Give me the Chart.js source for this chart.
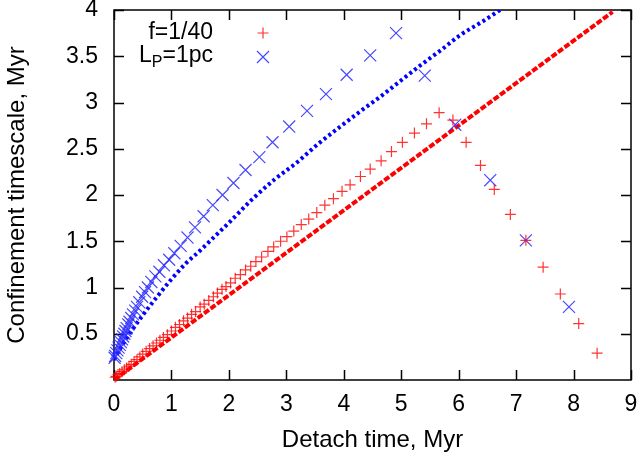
<!DOCTYPE html>
<html>
<head>
<meta charset="utf-8">
<script src="https://cdn.jsdelivr.net/npm/chart.js@4/dist/chart.umd.min.js"></script>
<style>
  html, body { margin: 0; padding: 0; background: #fff; }
  #wrap { width: 641px; height: 460px; }
</style>
</head>
<body>
<div id="wrap"><canvas id="chart" width="641" height="460"></canvas></div>
<script>
// f=1/40 points (red +)
const redX = [0.02, 0.04, 0.07, 0.10, 0.14, 0.18, 0.22, 0.26, 0.30, 0.35,
  0.40, 0.45, 0.50, 0.56, 0.62, 0.68, 0.74, 0.80, 0.86, 0.93,
  1.00, 1.07, 1.14, 1.21, 1.28, 1.35, 1.42, 1.50, 1.57, 1.65,
  1.73, 1.80, 1.88, 1.95, 2.03, 2.11, 2.20, 2.29, 2.38, 2.47,
  2.57, 2.68, 2.78, 2.90, 3.01, 3.13, 3.26, 3.39, 3.53, 3.67,
  3.82, 3.97, 4.11, 4.29, 4.46, 4.65, 4.83, 5.02, 5.23, 5.44,
  5.66, 5.90, 6.13, 6.38, 6.62, 6.90, 7.17, 7.47, 7.77, 8.09, 8.41];
const redY = [0.03, 0.04, 0.06, 0.07, 0.09, 0.11, 0.13, 0.15, 0.17, 0.20,
  0.22, 0.25, 0.28, 0.31, 0.34, 0.37, 0.40, 0.43, 0.46, 0.49,
  0.53, 0.57, 0.60, 0.64, 0.67, 0.71, 0.74, 0.79, 0.82, 0.86,
  0.90, 0.94, 0.98, 1.01, 1.05, 1.10, 1.14, 1.19, 1.23, 1.28,
  1.33, 1.39, 1.44, 1.50, 1.55, 1.61, 1.68, 1.74, 1.81, 1.89,
  1.96, 2.04, 2.11, 2.20, 2.28, 2.37, 2.47, 2.57, 2.67, 2.77,
  2.89, 2.81, 2.57, 2.32, 2.06, 1.79, 1.51, 1.22, 0.93, 0.61, 0.29];

// L_P=1pc points (blue x)
const blueX = [0.01, 0.02, 0.04, 0.06, 0.08, 0.10, 0.12, 0.14, 0.16, 0.18,
  0.20, 0.22, 0.25, 0.27, 0.30, 0.33, 0.37, 0.40, 0.44, 0.49,
  0.54, 0.59, 0.65, 0.72, 0.79, 0.87, 0.96, 1.05, 1.16, 1.28,
  1.41, 1.56, 1.72, 1.89, 2.08, 2.29, 2.53, 2.76, 3.05, 3.36,
  3.69, 4.05, 4.46, 4.91, 5.41, 5.94, 6.55, 7.17, 7.92];
const blueY = [0.24, 0.26, 0.29, 0.32, 0.35, 0.38, 0.41, 0.44, 0.47, 0.50,
  0.53, 0.56, 0.60, 0.63, 0.67, 0.71, 0.75, 0.79, 0.84, 0.90,
  0.95, 1.00, 1.06, 1.12, 1.17, 1.24, 1.30, 1.37, 1.45, 1.54,
  1.65, 1.77, 1.89, 2.00, 2.13, 2.27, 2.41, 2.57, 2.74, 2.91,
  3.09, 3.30, 3.51, 3.75, 3.29, 2.76, 2.16, 1.51, 0.79];

// blue dotted curve
const dotX = [0, 0.1, 0.25, 0.5, 0.75, 1.0, 1.25, 1.5, 1.75, 2.0, 2.4, 2.8,
  3.2, 3.55, 3.94, 4.3, 4.63, 5.0, 5.33, 5.7, 6.03, 6.4, 6.72];
const dotY = [0.22, 0.33, 0.48, 0.70, 0.90, 1.09, 1.26, 1.40, 1.55, 1.70, 1.95, 2.17,
  2.36, 2.55, 2.74, 2.91, 3.06, 3.24, 3.40, 3.57, 3.73, 3.87, 4.0];

// red dashed line
const dashX = [0, 8.68];
const dashY = [0, 3.98];

const xTicks = [0, 1, 2, 3, 4, 5, 6, 7, 8, 9];
const yTicks = [0.5, 1, 1.5, 2, 2.5, 3, 3.5, 4];

const FONT = "'Liberation Sans', Arial, Helvetica, sans-serif";

function pts(xs, ys) {
    return xs.map((x, i) => ({ x: x, y: ys[i] }));
}

// gnuplot style frame with inward ticks on all four sides + key
const plotFrame = {
    id: 'plotFrame',
    beforeDatasetsDraw(chart) {
        const ctx = chart.ctx;
        const a = chart.chartArea;
        const x = chart.scales.x, y = chart.scales.y;
        ctx.save();
        ctx.strokeStyle = '#000';
        ctx.lineWidth = 1.5;
        ctx.strokeRect(a.left, a.top, a.right - a.left, a.bottom - a.top);
        ctx.beginPath();
        xTicks.forEach(v => {
            const px = Math.round(x.getPixelForValue(v)) + 0.5;
            ctx.moveTo(px, a.bottom); ctx.lineTo(px, a.bottom - 10);
            ctx.moveTo(px, a.top); ctx.lineTo(px, a.top + 10);
        });
        yTicks.forEach(v => {
            const py = Math.round(y.getPixelForValue(v)) + 0.5;
            ctx.moveTo(a.left, py); ctx.lineTo(a.left + 10, py);
            ctx.moveTo(a.right, py); ctx.lineTo(a.right - 10, py);
        });
        ctx.stroke();
        ctx.restore();
    },
    afterDraw(chart) {
        const ctx = chart.ctx;
        const ds = chart.data.datasets;
        ctx.save();
        ctx.fillStyle = '#000';
        ctx.textBaseline = 'middle';
        ctx.textAlign = 'left';
        const right = 213;
        // first entry
        ctx.font = '23px ' + FONT;
        const t1 = 'f=1/40';
        ctx.fillText(t1, right - ctx.measureText(t1).width, 33);
        // second entry with subscript
        const wL = ctx.measureText('L').width;
        const wRest = ctx.measureText('=1pc').width;
        ctx.font = '16px ' + FONT;
        const wP = ctx.measureText('P').width;
        let sx = right - wL - wP - wRest;
        ctx.font = '23px ' + FONT;
        ctx.fillText('L', sx, 56);
        ctx.font = '16px ' + FONT;
        ctx.fillText('P', sx + wL, 63);
        ctx.font = '23px ' + FONT;
        ctx.fillText('=1pc', sx + wL + wP, 56);
        // sample markers
        ctx.lineWidth = 1.2;
        ctx.strokeStyle = ds[0].borderColor;
        Chart.helpers.drawPoint(ctx, { pointStyle: 'cross', radius: 5.5, borderWidth: 1.2, rotation: 0 }, 263, 33);
        ctx.strokeStyle = ds[1].borderColor;
        Chart.helpers.drawPoint(ctx, { pointStyle: 'crossRot', radius: 8.5, borderWidth: 1.2, rotation: 0 }, 263, 57);
        ctx.restore();
    }
};

const tickFont = { family: FONT, size: 23 };
const titleFont = { family: FONT, size: 24 };

new Chart(document.getElementById('chart'), {
    type: 'scatter',
    data: {
        datasets: [
            {
                label: 'f=1/40',
                data: pts(redX, redY),
                pointStyle: 'cross',
                pointRadius: 5.5,
                borderColor: 'rgba(255,0,0,0.8)',
                backgroundColor: 'rgba(255,0,0,0.8)',
                pointBorderWidth: 1.2,
                clip: false
            },
            {
                label: 'L_P=1pc',
                data: pts(blueX, blueY),
                pointStyle: 'crossRot',
                pointRadius: 8.5,
                borderColor: 'rgba(40,40,255,0.85)',
                backgroundColor: 'rgba(40,40,255,0.85)',
                pointBorderWidth: 1.2,
                clip: false
            },
            {
                label: 'dotted',
                data: pts(dotX, dotY),
                showLine: true,
                pointRadius: 0,
                borderColor: '#0000ff',
                borderWidth: 4,
                borderDash: [3, 3],
                cubicInterpolationMode: 'monotone',
                fill: false
            },
            {
                label: 'dashed',
                data: pts(dashX, dashY),
                showLine: true,
                pointRadius: 0,
                borderColor: '#ff0000',
                borderWidth: 4,
                borderDash: [6, 2],
                fill: false
            }
        ]
    },
    options: {
        responsive: false,
        animation: false,
        events: [],
        layout: { padding: { top: 10, right: 10, left: 0, bottom: 0 } },
        plugins: { legend: { display: false }, tooltip: { enabled: false } },
        scales: {
            x: {
                type: 'linear',
                min: 0,
                max: 9,
                grid: { display: false, drawTicks: false },
                border: { display: false },
                ticks: { stepSize: 1, font: tickFont, color: '#000', padding: 11, maxRotation: 0 },
                title: { display: true, text: 'Detach time, Myr', font: titleFont, color: '#000', padding: { top: 0, bottom: 5 } },
                afterFit(s) { s.height = 80; s.paddingLeft = 0; s.paddingRight = 0; }
            },
            y: {
                type: 'linear',
                min: 0,
                max: 4,
                grid: { display: false, drawTicks: false },
                border: { display: false },
                ticks: {
                    stepSize: 0.5, font: tickFont, color: '#000', padding: 16,
                    callback: v => (v === 0 ? '' : v)
                },
                title: { display: true, text: 'Confinement timescale, Myr', font: titleFont, color: '#000', padding: { top: 3, bottom: 0 } },
                afterFit(s) { s.width = 114; s.paddingTop = 0; s.paddingBottom = 0; }
            }
        }
    },
    plugins: [plotFrame]
});
</script>
</body>
</html>
